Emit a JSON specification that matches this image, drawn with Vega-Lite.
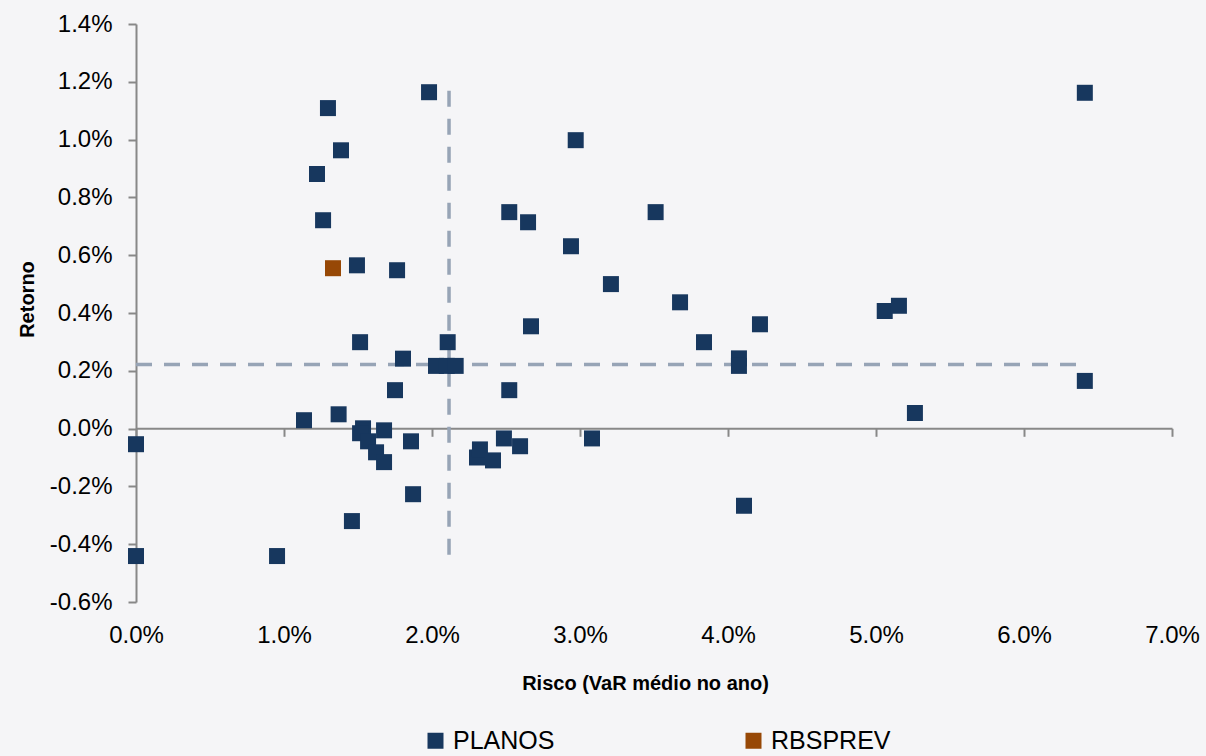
{
  "$schema": "https://vega.github.io/schema/vega-lite/v6.json",
  "width": 1036,
  "height": 578,
  "autosize": {"type": "none"},
  "padding": {"left": 136, "top": 24, "right": 34, "bottom": 154},
  "background": "#f5f5f7",
  "config": {"view": {"stroke": null}, "font": "Liberation Sans"},
  "datasets": {
    "refs": [
      {"x": 0.02115, "y": 0.01169, "x2": 0.02115, "y2": -0.00437},
      {"x": 0, "y": 0.002216, "x2": 0.0638, "y2": 0.002216}
    ],
    "pts": [
      {"serie": "PLANOS", "risco": 0, "retorno": -0.00054},
      {"serie": "PLANOS", "risco": 0, "retorno": -0.00441},
      {"serie": "PLANOS", "risco": 0.00953, "retorno": -0.00441},
      {"serie": "PLANOS", "risco": 0.01135, "retorno": 0.00029},
      {"serie": "PLANOS", "risco": 0.01223, "retorno": 0.00881},
      {"serie": "PLANOS", "risco": 0.01264, "retorno": 0.00721},
      {"serie": "PLANOS", "risco": 0.01297, "retorno": 0.01109},
      {"serie": "PLANOS", "risco": 0.01369, "retorno": 0.000495},
      {"serie": "PLANOS", "risco": 0.01385, "retorno": 0.00963},
      {"serie": "PLANOS", "risco": 0.01459, "retorno": -0.0032},
      {"serie": "PLANOS", "risco": 0.01493, "retorno": 0.00565},
      {"serie": "PLANOS", "risco": 0.01514, "retorno": 0.00299},
      {"serie": "PLANOS", "risco": 0.01534, "retorno": 0.00001},
      {"serie": "PLANOS", "risco": 0.01514, "retorno": -0.00016},
      {"serie": "PLANOS", "risco": 0.01568, "retorno": -0.00044},
      {"serie": "PLANOS", "risco": 0.01622, "retorno": -0.00082},
      {"serie": "PLANOS", "risco": 0.01676, "retorno": -0.00006},
      {"serie": "PLANOS", "risco": 0.01676, "retorno": -0.00116},
      {"serie": "PLANOS", "risco": 0.0175, "retorno": 0.00133},
      {"serie": "PLANOS", "risco": 0.01764, "retorno": 0.00548},
      {"serie": "PLANOS", "risco": 0.01804, "retorno": 0.00242},
      {"serie": "PLANOS", "risco": 0.01858, "retorno": -0.00044},
      {"serie": "PLANOS", "risco": 0.01872, "retorno": -0.00227},
      {"serie": "PLANOS", "risco": 0.0198, "retorno": 0.01164},
      {"serie": "PLANOS", "risco": 0.02027, "retorno": 0.00217},
      {"serie": "PLANOS", "risco": 0.021, "retorno": 0.00217},
      {"serie": "PLANOS", "risco": 0.0216, "retorno": 0.00217},
      {"serie": "PLANOS", "risco": 0.02106, "retorno": 0.00299},
      {"serie": "PLANOS", "risco": 0.02304, "retorno": -0.001},
      {"serie": "PLANOS", "risco": 0.02324, "retorno": -0.00072},
      {"serie": "PLANOS", "risco": 0.02412, "retorno": -0.0011},
      {"serie": "PLANOS", "risco": 0.02486, "retorno": -0.00034},
      {"serie": "PLANOS", "risco": 0.02522, "retorno": 0.00749},
      {"serie": "PLANOS", "risco": 0.02522, "retorno": 0.00133},
      {"serie": "PLANOS", "risco": 0.02595, "retorno": -0.00061},
      {"serie": "PLANOS", "risco": 0.02649, "retorno": 0.00714},
      {"serie": "PLANOS", "risco": 0.02669, "retorno": 0.00354},
      {"serie": "PLANOS", "risco": 0.02939, "retorno": 0.00631},
      {"serie": "PLANOS", "risco": 0.02971, "retorno": 0.00998},
      {"serie": "PLANOS", "risco": 0.03081, "retorno": -0.00034},
      {"serie": "PLANOS", "risco": 0.03209, "retorno": 0.005},
      {"serie": "PLANOS", "risco": 0.03511, "retorno": 0.00749},
      {"serie": "PLANOS", "risco": 0.03676, "retorno": 0.00437},
      {"serie": "PLANOS", "risco": 0.03838, "retorno": 0.00299},
      {"serie": "PLANOS", "risco": 0.04074, "retorno": 0.00243},
      {"serie": "PLANOS", "risco": 0.04074, "retorno": 0.00217},
      {"serie": "PLANOS", "risco": 0.04108, "retorno": -0.00267},
      {"serie": "PLANOS", "risco": 0.04216, "retorno": 0.00361},
      {"serie": "PLANOS", "risco": 0.05059, "retorno": 0.00407},
      {"serie": "PLANOS", "risco": 0.05155, "retorno": 0.00425},
      {"serie": "PLANOS", "risco": 0.05263, "retorno": 0.00054},
      {"serie": "PLANOS", "risco": 0.06411, "retorno": 0.01162},
      {"serie": "PLANOS", "risco": 0.06411, "retorno": 0.00165},
      {"serie": "RBSPREV", "risco": 0.01331, "retorno": 0.00555}
    ]
  },
  "layer": [
    {
      "data": {"name": "refs"},
      "mark": {"type": "rule", "color": "#97a4b6", "strokeWidth": 3.5, "strokeDash": [16, 12]},
      "encoding": {
        "x": {"field": "x", "type": "quantitative", "scale": {"domain": [0, 0.07], "nice": false, "zero": false},
          "axis": {"title": "Risco (VaR médio no ano)", "format": ".1%", "values": [0, 0.01, 0.02, 0.03, 0.04, 0.05, 0.06, 0.07],
            "offset": -173.7, "domainColor": "#888888", "domainWidth": 2, "tickColor": "#888888", "tickWidth": 2, "tickSize": 8,
            "labelFontSize": 24, "labelColor": "#000000", "labelPadding": 187, "labelFlush": false, "labelOverlap": false,
            "titleFontSize": 20, "titleFontWeight": "bold", "titleColor": "#000000", "titleBaseline": "alphabetic", "titleY": 261, "titleX": 509, "grid": false}},
        "y": {"field": "y", "type": "quantitative", "scale": {"domain": [-0.006, 0.014], "nice": false, "zero": false},
          "axis": {"title": "Retorno", "format": ".1%", "values": [-0.006, -0.004, -0.002, 0, 0.002, 0.004, 0.006, 0.008, 0.01, 0.012, 0.014],
            "labelExpr": "replace(datum.label, '−', '-')",
            "domainColor": "#888888", "domainWidth": 2, "tickColor": "#888888", "tickWidth": 2, "tickSize": 8,
            "labelFontSize": 24, "labelColor": "#000000", "labelPadding": 16, "labelOverlap": false, "labelFlush": false,
            "titleFontSize": 20, "titleFontWeight": "bold", "titleColor": "#000000", "titleAngle": -90, "titleBaseline": "alphabetic", "titleAlign": "center", "titleX": -103, "titleY": 275, "grid": false}},
        "x2": {"field": "x2"},
        "y2": {"field": "y2"}
      }
    },
    {
      "data": {"name": "pts"},
      "mark": {"type": "square", "size": 256, "opacity": 1, "filled": true},
      "encoding": {
        "x": {"field": "risco", "type": "quantitative", "scale": {"domain": [0, 0.07], "nice": false, "zero": false},
          "axis": {"title": "Risco (VaR médio no ano)", "format": ".1%", "values": [0, 0.01, 0.02, 0.03, 0.04, 0.05, 0.06, 0.07],
            "offset": -173.7, "domainColor": "#888888", "domainWidth": 2, "tickColor": "#888888", "tickWidth": 2, "tickSize": 8,
            "labelFontSize": 24, "labelColor": "#000000", "labelPadding": 187, "labelFlush": false, "labelOverlap": false,
            "titleFontSize": 20, "titleFontWeight": "bold", "titleColor": "#000000", "titleBaseline": "alphabetic", "titleY": 261, "titleX": 509, "grid": false}},
        "y": {"field": "retorno", "type": "quantitative", "scale": {"domain": [-0.006, 0.014], "nice": false, "zero": false},
          "axis": {"title": "Retorno", "format": ".1%", "values": [-0.006, -0.004, -0.002, 0, 0.002, 0.004, 0.006, 0.008, 0.01, 0.012, 0.014],
            "labelExpr": "replace(datum.label, '−', '-')",
            "domainColor": "#888888", "domainWidth": 2, "tickColor": "#888888", "tickWidth": 2, "tickSize": 8,
            "labelFontSize": 24, "labelColor": "#000000", "labelPadding": 16, "labelOverlap": false, "labelFlush": false,
            "titleFontSize": 20, "titleFontWeight": "bold", "titleColor": "#000000", "titleAngle": -90, "titleBaseline": "alphabetic", "titleAlign": "center", "titleX": -103, "titleY": 275, "grid": false}},
        "color": {"field": "serie", "type": "nominal",
          "scale": {"domain": ["PLANOS", "RBSPREV"], "range": ["#17375E", "#974806"]},
          "legend": {"orient": "none", "legendX": 287, "legendY": 704, "direction": "horizontal", "columns": 2, "columnPadding": 186,
            "title": null, "labelFontSize": 25, "labelColor": "#000000", "labelFont": "Liberation Sans", "labelOffset": 5,
            "symbolType": "square", "symbolSize": 256, "symbolStrokeWidth": 0, "symbolOpacity": 1, "padding": 0}}
      }
    }
  ]
}
